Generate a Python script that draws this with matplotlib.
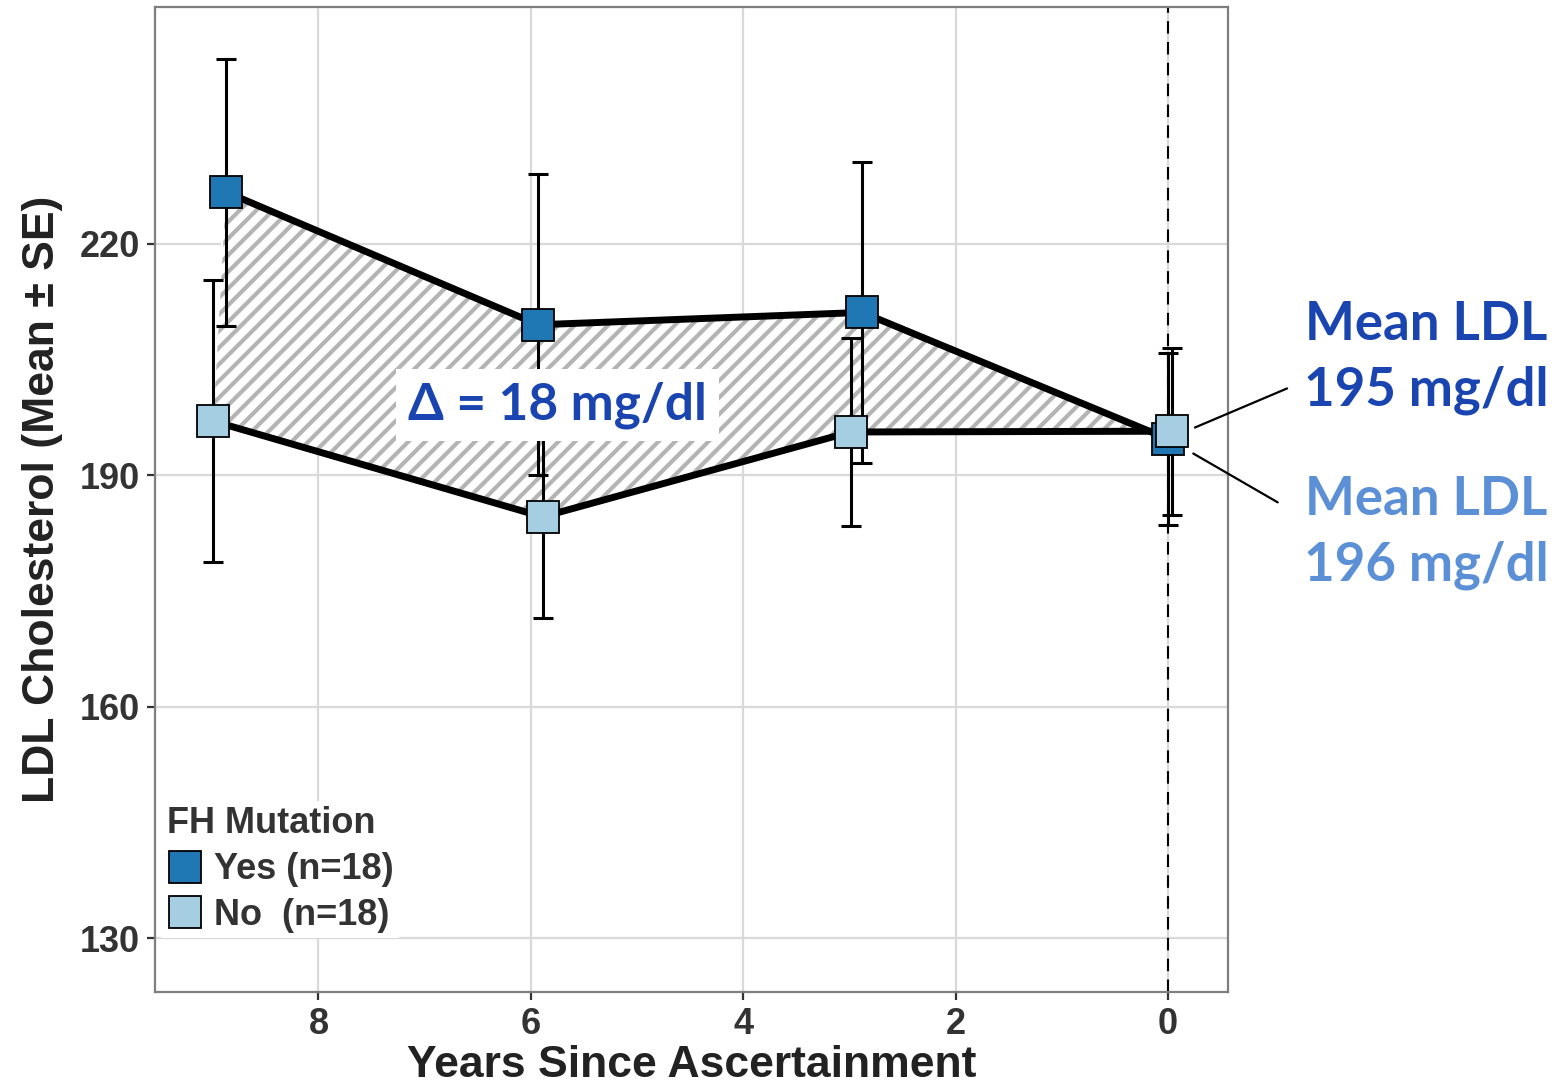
import matplotlib
matplotlib.use('Agg')
import matplotlib.pyplot as plt
from matplotlib.lines import Line2D
from matplotlib.patches import Polygon

# values
years_yes = [8.87, 5.93, 2.88, 0.0]
ldl_yes = [226.7, 209.5, 211.1, 194.7]
se_yes = [17.3, 19.5, 19.5, 11.1]

years_no = [8.99, 5.89, 2.99, -0.04]
ldl_no = [197.0, 184.6, 195.6, 195.7]
se_no = [18.3, 13.1, 12.2, 10.8]

x_ticks = [8, 6, 4, 2, 0]
y_ticks = [130, 160, 190, 220]

labels = ['Yes (n=18)', 'No  (n=18)']
legend_title = 'FH Mutation'
delta_text = '\u0394 = 18 mg/dl'
yes_note = 'Mean LDL\n195 mg/dl'
no_note = 'Mean LDL\n196 mg/dl'

c_yes = '#1f78b4'
c_no = '#a6cee3'
c_note_dark = '#1a45b0'
c_note_light = '#5b8fd6'

plt.rcParams['font.family'] = ['Liberation Sans', 'DejaVu Sans']
plt.rcParams['hatch.linewidth'] = 3.0

fig = plt.figure(figsize=(15.62, 10.85), dpi=100)
ax = fig.add_axes([0.0992, 0.0857, 0.6870, 0.9079])

ax.set_xlim(9.54, -0.565)
ax.set_ylim(123, 250.7)

ax.set_xticks(x_ticks)
ax.set_yticks(y_ticks)
ax.grid(True, color='#d9d9d9', lw=1.6, zorder=0)
ax.set_axisbelow(True)
for s in ax.spines.values():
    s.set_color('#7f7f7f')
    s.set_linewidth(1.6)
ax.tick_params(length=6, width=1.6, color='#333333', labelsize=26,
               labelcolor='#333333', pad=5)
for lab in ax.get_xticklabels() + ax.get_yticklabels():
    lab.set_fontweight('bold')

ax.axvline(0, color='black', lw=1.5, ls=(0, (6, 4)), zorder=1)

# hatched area between the two groups
verts = list(zip(years_yes, ldl_yes)) + list(zip(years_no, ldl_no))[::-1]
ax.add_patch(Polygon(verts, closed=True, facecolor='white', edgecolor='white', lw=3, zorder=2))
ax.add_patch(Polygon(verts, closed=True, facecolor='none', edgecolor='#b4b4b4', lw=0,
                     hatch='//', zorder=2.1))

ax.errorbar(years_yes, ldl_yes, yerr=se_yes, fmt='none', ecolor='black', elinewidth=2.2,
            capsize=7.5, capthick=2.2, zorder=3)
ax.errorbar(years_no, ldl_no, yerr=se_no, fmt='none', ecolor='black', elinewidth=2.2,
            capsize=7.5, capthick=2.2, zorder=3)

ax.text(5.75, 199.1, delta_text, ha='center', va='center', fontsize=37, fontweight='bold',
        family=['Lato', 'DejaVu Sans'], color=c_note_dark, zorder=4,
        bbox=dict(facecolor='white', edgecolor='none', pad=9))

ax.plot(years_yes, ldl_yes, color='black', lw=5, zorder=5, solid_capstyle='round')
ax.plot(years_no, ldl_no, color='black', lw=5, zorder=5, solid_capstyle='round')
ax.plot(years_yes, ldl_yes, ls='none', marker='s', ms=23, mfc=c_yes, mec='black', mew=1.3, zorder=6)
ax.plot(years_no, ldl_no, ls='none', marker='s', ms=23, mfc=c_no, mec='black', mew=1.3, zorder=7)

ax.set_xlabel('Years Since Ascertainment', fontsize=32, fontweight='bold', color='#222222', labelpad=2)
ax.set_ylabel('LDL Cholesterol (Mean \u00b1 SE)', fontsize=32, fontweight='bold', color='#222222', labelpad=12)

handles = [Line2D([], [], ls='none', marker='s', ms=23, mfc=c_yes, mec='black', mew=1.3),
           Line2D([], [], ls='none', marker='s', ms=23, mfc=c_no, mec='black', mew=1.3)]
leg = ax.legend(handles, labels, title=legend_title, loc='upper left',
                bbox_to_anchor=(0.006, 0.194), borderaxespad=0, frameon=True,
                facecolor='white', edgecolor='none', framealpha=1, fancybox=False,
                prop={'size': 26, 'weight': 'bold'}, title_fontproperties={'size': 26, 'weight': 'bold'},
                handlelength=1.0, handletextpad=0.3, labelspacing=0.3, borderpad=0.15,
                alignment='left')
for t in leg.get_texts():
    t.set_color('#333333')
leg.get_title().set_color('#333333')
leg.set_zorder(8)

# callouts for the last time point
ax.annotate('', xy=(years_yes[-1], ldl_yes[-1]), xycoords='data',
            xytext=(0.824, 0.642), textcoords='figure fraction',
            arrowprops=dict(arrowstyle='-', color='black', lw=1.6, shrinkA=0, shrinkB=21))
ax.annotate('', xy=(years_yes[-1], ldl_yes[-1]), xycoords='data',
            xytext=(0.818, 0.537), textcoords='figure fraction',
            arrowprops=dict(arrowstyle='-', color='black', lw=1.6, shrinkA=0, shrinkB=21))
fig.text(0.913, 0.6705, yes_note, ha='center', va='center', fontsize=38, fontweight='bold',
         family=['Lato', 'DejaVu Sans'], color=c_note_dark, linespacing=1.42)
fig.text(0.913, 0.509, no_note, ha='center', va='center', fontsize=38, fontweight='bold',
         family=['Lato', 'DejaVu Sans'], color=c_note_light, linespacing=1.42)

fig.savefig('out.png', dpi=100)
